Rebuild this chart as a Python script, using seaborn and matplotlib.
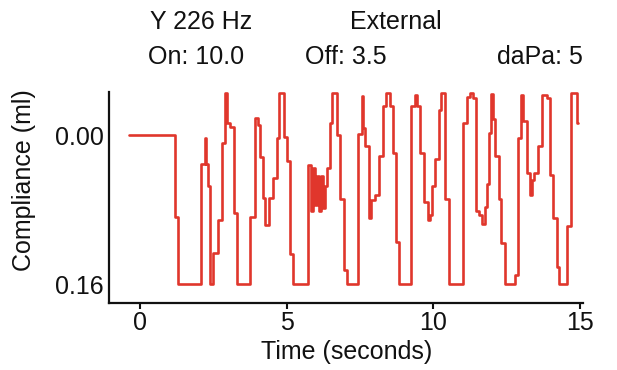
import numpy as np
import pandas as pd
import matplotlib
matplotlib.use("Agg")
import matplotlib.pyplot as plt
import seaborn as sns

# step trace: start time of each level (s) and level (ml)
time_s = [
    -0.38, 1.19, 1.30, 2.08, 2.22, 2.25, 2.32, 2.39, 2.49, 2.66,
    2.80, 2.90, 2.95, 3.07, 3.20, 3.32, 3.75, 3.92, 4.01, 4.09,
    4.19, 4.26, 4.40, 4.53, 4.65, 4.74, 4.91, 5.01, 5.11, 5.22,
    5.73, 5.83, 5.90, 5.97, 6.03, 6.10, 6.17, 6.24, 6.31, 6.38,
    6.49, 6.55, 6.72, 6.82, 6.94, 7.06, 7.43, 7.57, 7.60, 7.67,
    7.79, 7.88, 8.01, 8.15, 8.28, 8.39, 8.52, 8.63, 8.73, 8.83,
    9.24, 9.38, 9.44, 9.55, 9.67, 9.80, 9.89, 9.96, 10.06, 10.18,
    10.26, 10.40, 10.52, 11.01, 11.15, 11.25, 11.35, 11.46, 11.56, 11.66,
    11.76, 11.83, 11.88, 11.97, 12.03, 12.10, 12.22, 12.32, 12.44, 12.78,
    12.89, 12.99, 13.06, 13.18, 13.30, 13.35, 13.43, 13.57, 13.69, 13.86,
    13.98, 14.08, 14.20, 14.27, 14.56, 14.69, 14.90, 14.93,
]
compliance_ml = [
    0.000, 0.088, 0.160, 0.031, 0.003, 0.031, 0.054, 0.160, 0.126, 0.091,
    0.008, -0.046, -0.013, -0.009, 0.084, 0.160, 0.088, -0.019, -0.011, 0.023,
    0.067, 0.096, 0.067, 0.046, 0.003, -0.046, 0.002, 0.028, 0.128, 0.160,
    0.032, 0.081, 0.035, 0.075, 0.044, 0.081, 0.044, 0.078, 0.054, 0.035,
    -0.013, -0.046, 0.000, 0.068, 0.145, 0.160, -0.002, -0.042, -0.008, 0.011,
    0.089, 0.070, 0.064, 0.022, -0.032, -0.046, -0.032, 0.019, 0.115, 0.160,
    -0.032, -0.043, -0.032, 0.019, 0.072, 0.091, 0.086, 0.054, 0.025, -0.027,
    -0.046, 0.068, 0.160, -0.013, -0.041, -0.046, -0.040, 0.081, 0.086, 0.095,
    0.077, 0.052, -0.003, -0.045, -0.018, 0.022, 0.068, 0.116, 0.160, 0.150,
    0.003, -0.043, -0.016, 0.040, 0.064, 0.048, 0.041, 0.011, -0.043, -0.040,
    0.043, 0.089, 0.142, 0.160, 0.097, -0.046, -0.013, -0.013,
]

x_ticks = [0, 5, 10, 15]
y_ticks = [0.00, 0.16]
y_tick_labels = ["0.00", "0.16"]

header_top = ["Y 226 Hz", "External"]
header_bottom = ["On: 10.0", "Off: 3.5", "daPa: 5"]

df = pd.DataFrame({"time": time_s, "compliance": compliance_ml})

ink = "#111111"
sns.set_theme(style="ticks", rc={"text.color": ink, "axes.labelcolor": ink,
                                 "xtick.color": ink, "ytick.color": ink})
plt.rcParams["font.family"] = ["Liberation Sans", "DejaVu Sans"]

fig = plt.figure(figsize=(6.17, 3.70), dpi=100)
ax = fig.add_axes([0.1767, 0.1819, 0.7682, 0.5703])

sns.lineplot(data=df, x="time", y="compliance", ax=ax, estimator=None, sort=False,
             drawstyle="steps-post", color="#e0362c", linewidth=1.9)

ax.set_xlim(-1.06, 15.10)
ax.set_ylim(0.180, -0.047)  # inverted, 0.00 at top

ax.set_xticks(x_ticks)
ax.set_yticks(y_ticks)
ax.set_yticklabels(y_tick_labels)
ax.tick_params(axis="x", length=4, width=1.5, color=ink, labelsize=18, pad=2)
ax.tick_params(axis="y", length=0, labelsize=18, pad=4)

for side in ["top", "right"]:
    ax.spines[side].set_visible(False)
for side in ["left", "bottom"]:
    ax.spines[side].set_linewidth(1.6)
    ax.spines[side].set_color(ink)

ax.set_xlabel("Time (seconds)", fontsize=18)
ax.set_ylabel("Compliance (ml)", fontsize=18)
ax.xaxis.set_label_coords(0.502, -0.175)
ax.yaxis.set_label_coords(-0.155, 0.58)

# instrument header above the trace
fig.text(0.243, 0.9405, header_top[0], fontsize=18, va="center", ha="left")
fig.text(0.567, 0.9405, header_top[1], fontsize=18, va="center", ha="left")
fig.text(0.240, 0.846, header_bottom[0], fontsize=18, va="center", ha="left")
fig.text(0.494, 0.846, header_bottom[1], fontsize=18, va="center", ha="left")
fig.text(0.945, 0.846, header_bottom[2], fontsize=18, va="center", ha="right")

fig.savefig("out.png", dpi=100)
